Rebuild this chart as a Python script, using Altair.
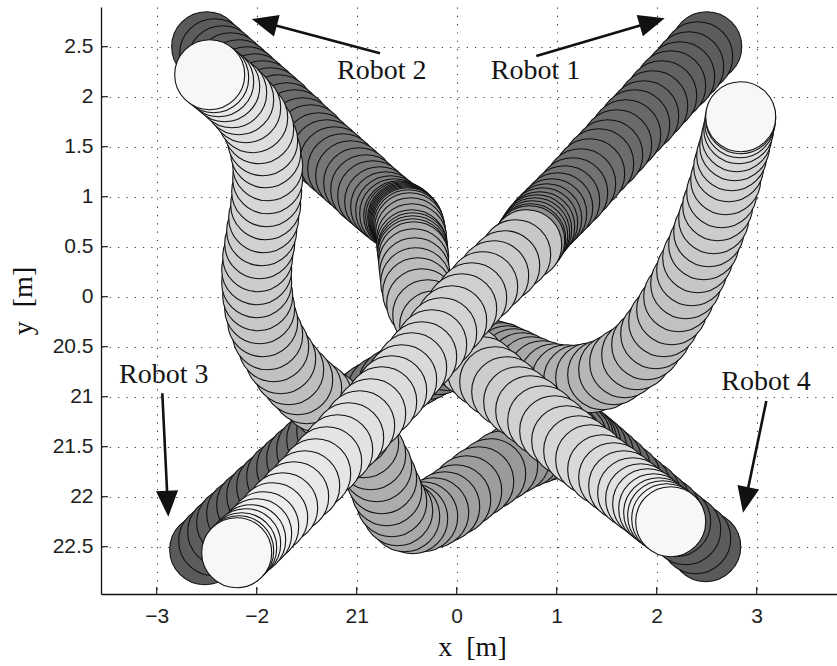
import math
import altair as alt
import pandas as pd

# ---- frame (metres) ---------------------------------------------------------
X_MIN, X_MAX = -3.557, 3.803
Y_MIN, Y_MAX = -2.973, 2.897
PLOT_W, PLOT_H = 736, 587
PX_PER_M = PLOT_W / (X_MAX - X_MIN)
ROBOT_RADIUS = 0.4          # footprint radius of every robot [m]
T_LAST = 99                 # last simulation step

x_ticks = [-3, -2, -1, 0, 1, 2, 3]
x_tick_labels = ["\u22123", "\u22122", "21", "0", "1", "2", "3"]
y_ticks = [-2.5, -2, -1.5, -1, -0.5, 0, 0.5, 1, 1.5, 2, 2.5]
y_tick_labels = ["22.5", "22", "21.5", "21", "20.5", "0", "0.5", "1", "1.5", "2", "2.5"]

# ---- robot footprints: simulation step and position -------------------------
robot1_t = [0, 1, 2, 3, 4, 5, 6, 7, 8, 9, 10, 11, 12, 13, 14, 15, 16, 17, 18, 19, 20,
            22, 24, 26, 28, 31, 34,
            68, 69, 70, 71, 72, 73, 74, 75, 76, 77, 78, 79, 80, 81, 82, 83, 84, 85, 86,
            87, 88, 89, 90, 91, 92, 93, 94, 95, 96, 97, 98, 99]
robot1_x = [2.50, 2.41, 2.32, 2.23, 2.14, 2.05, 1.96, 1.87, 1.78, 1.69, 1.60, 1.51, 1.42,
            1.33, 1.24, 1.16, 1.08, 1.01, 0.95, 0.90, 0.86,
            0.83, 0.80, 0.78, 0.76, 0.74, 0.73,
            0.70, 0.59, 0.48, 0.37, 0.26, 0.15, 0.05, -0.05, -0.15, -0.25, -0.35, -0.45,
            -0.55, -0.65, -0.75, -0.86, -0.97, -1.08, -1.19, -1.30, -1.41, -1.52, -1.63,
            -1.74, -1.84, -1.93, -2.00, -2.06, -2.11, -2.15, -2.18, -2.20]
robot1_y = [2.50, 2.40, 2.30, 2.20, 2.11, 2.01, 1.91, 1.81, 1.72, 1.62, 1.52, 1.42, 1.33,
            1.23, 1.13, 1.04, 0.96, 0.89, 0.83, 0.78, 0.74,
            0.70, 0.67, 0.64, 0.61, 0.58, 0.56,
            0.52, 0.42, 0.31, 0.21, 0.10, -0.01, -0.12, -0.24, -0.36, -0.48, -0.60, -0.71,
            -0.83, -0.94, -1.05, -1.17, -1.29, -1.41, -1.53, -1.65, -1.77, -1.89, -2.00,
            -2.11, -2.21, -2.30, -2.37, -2.43, -2.47, -2.51, -2.54, -2.56]

robot2_t = [0, 1, 2, 3, 4, 5, 6, 7, 8, 9, 10, 11, 12, 13, 14, 15, 16, 17, 18, 19, 20, 21,
            22, 23, 24, 25, 26, 28, 30, 32, 34, 36, 38, 40, 42, 44, 46, 48, 50, 51, 52,
            53, 54, 56, 58, 60, 62, 63, 64, 65, 66, 67, 68, 69, 70, 71, 72, 73, 74, 75,
            76, 77, 78, 79, 80, 81, 82, 84, 86, 88, 90, 92, 94, 96, 99]
robot2_x = [-2.50, -2.42, -2.34, -2.26, -2.18, -2.10, -2.02, -1.94, -1.86, -1.78, -1.70,
            -1.62, -1.54, -1.46, -1.38, -1.30, -1.22, -1.14, -1.06, -0.98, -0.91, -0.84,
            -0.77, -0.71, -0.66, -0.62, -0.58, -0.56, -0.54, -0.53, -0.52, -0.51, -0.50,
            -0.49, -0.48, -0.47, -0.46, -0.45, -0.45, -0.44, -0.44, -0.44, -0.43, -0.43,
            -0.42, -0.41, -0.39, -0.35, -0.29, -0.22, -0.14, -0.06, 0.03, 0.14, 0.26,
            0.38, 0.50, 0.62, 0.74, 0.86, 0.98, 1.10, 1.22, 1.34, 1.46, 1.57, 1.67, 1.76,
            1.84, 1.91, 1.97, 2.02, 2.06, 2.10, 2.14]
robot2_y = [2.50, 2.43, 2.36, 2.29, 2.22, 2.15, 2.08, 2.01, 1.94, 1.87, 1.79, 1.72, 1.64,
            1.57, 1.49, 1.42, 1.35, 1.28, 1.21, 1.14, 1.07, 1.01, 0.95, 0.90, 0.86, 0.83,
            0.81, 0.80, 0.79, 0.78, 0.77, 0.76, 0.75, 0.74, 0.72, 0.69, 0.64, 0.58, 0.52,
            0.49, 0.46, 0.43, 0.40, 0.33, 0.24, 0.14, 0.04, -0.07, -0.18, -0.29, -0.40,
            -0.48, -0.56, -0.65, -0.75, -0.85, -0.95, -1.05, -1.14, -1.24, -1.34, -1.44,
            -1.54, -1.63, -1.73, -1.81, -1.89, -1.96, -2.02, -2.07, -2.12, -2.16, -2.19,
            -2.22, -2.25]

robot3_t = [0, 1, 2, 3, 4, 5, 6, 7, 8, 9, 10, 11, 12, 13, 14, 15, 16, 17, 18, 19, 20, 21,
            22, 23, 24, 25, 26, 28, 30, 33, 36, 39, 42, 45, 48, 50, 52, 54, 55, 56, 57,
            58, 59, 60, 61, 62, 63, 64, 65, 66, 67, 68, 69, 70, 71, 72, 73, 74, 75, 76,
            77, 79, 82, 86, 91, 99]
robot3_x = [-2.52, -2.43, -2.34, -2.25, -2.15, -2.05, -1.95, -1.85, -1.75, -1.65, -1.55,
            -1.45, -1.35, -1.25, -1.15, -1.05, -0.95, -0.85, -0.74, -0.63, -0.52, -0.41,
            -0.30, -0.19, -0.08, 0.03, 0.13, 0.22, 0.30, 0.37, 0.44, 0.51, 0.58, 0.66,
            0.75, 0.86, 0.98, 1.10, 1.22, 1.34, 1.46, 1.57, 1.68, 1.80, 1.90, 1.99, 2.07,
            2.15, 2.22, 2.29, 2.35, 2.41, 2.47, 2.52, 2.57, 2.61, 2.65, 2.69, 2.72, 2.75,
            2.78, 2.80, 2.82, 2.83, 2.84, 2.84]
robot3_y = [-2.53, -2.44, -2.35, -2.26, -2.17, -2.08, -1.99, -1.90, -1.80, -1.71, -1.62,
            -1.53, -1.43, -1.34, -1.25, -1.16, -1.08, -1.01, -0.94, -0.87, -0.80, -0.74,
            -0.68, -0.63, -0.59, -0.57, -0.56, -0.56, -0.57, -0.59, -0.61, -0.64, -0.67,
            -0.71, -0.75, -0.79, -0.82, -0.83, -0.83, -0.81, -0.78, -0.73, -0.66, -0.58,
            -0.48, -0.37, -0.25, -0.13, 0.00, 0.13, 0.26, 0.39, 0.52, 0.65, 0.78, 0.91,
            1.04, 1.17, 1.30, 1.41, 1.51, 1.60, 1.68, 1.74, 1.78, 1.80]

robot4_t = [0, 1, 2, 3, 4, 5, 6, 7, 8, 9, 10, 11, 12, 13, 14, 16, 18, 20, 23, 26, 29, 32,
            34, 36, 38, 39, 40, 41, 42, 43, 44, 45, 46, 47, 48, 49, 50, 51, 52, 53, 54,
            55, 56, 57, 58, 59, 60, 61, 62, 63, 64, 65, 66, 67, 68, 69, 70, 71, 72, 73,
            74, 75, 76, 77, 78, 79, 80, 81, 82, 83, 84, 85, 86, 88, 90, 93, 99]
robot4_x = [2.49, 2.39, 2.29, 2.19, 2.09, 1.99, 1.89, 1.79, 1.69, 1.59, 1.50, 1.42, 1.35,
            1.29, 1.25, 1.22, 1.19, 1.15, 1.10, 1.04, 0.97, 0.89, 0.80, 0.70, 0.58, 0.46,
            0.34, 0.22, 0.10, -0.01, -0.12, -0.23, -0.34, -0.44, -0.52, -0.59, -0.65,
            -0.70, -0.75, -0.80, -0.86, -0.93, -1.01, -1.10, -1.20, -1.30, -1.40, -1.50,
            -1.59, -1.68, -1.76, -1.83, -1.89, -1.94, -1.97, -1.99, -2.00, -2.00, -1.99,
            -1.97, -1.95, -1.93, -1.91, -1.90, -1.89, -1.89, -1.91, -1.94, -1.98, -2.04,
            -2.11, -2.18, -2.25, -2.32, -2.38, -2.43, -2.47]
robot4_y = [-2.50, -2.42, -2.33, -2.25, -2.16, -2.08, -1.99, -1.91, -1.82, -1.73, -1.65,
            -1.58, -1.52, -1.47, -1.44, -1.42, -1.41, -1.41, -1.42, -1.44, -1.46, -1.49,
            -1.52, -1.56, -1.62, -1.69, -1.77, -1.85, -1.94, -2.03, -2.10, -2.16, -2.20,
            -2.22, -2.20, -2.14, -2.05, -1.94, -1.82, -1.70, -1.58, -1.46, -1.35, -1.25,
            -1.16, -1.08, -1.00, -0.92, -0.83, -0.73, -0.62, -0.50, -0.38, -0.25, -0.12,
            0.01, 0.14, 0.27, 0.40, 0.53, 0.66, 0.79, 0.92, 1.05, 1.18, 1.31, 1.44, 1.56,
            1.68, 1.79, 1.89, 1.97, 2.04, 2.10, 2.15, 2.19, 2.22]

# ---- annotations -------------------------------------------------------------
label_text = ["Robot 1", "Robot 2", "Robot 3", "Robot 4"]
label_x = [0.34, -1.197, -3.377, 2.646]
label_y = [2.177, 2.177, -0.86, -0.933]
arrow_tail_x = [0.796, -0.767, -2.944, 3.096]
arrow_tail_y = [2.407, 2.434, -0.966, -1.043]
arrow_tip_x = [2.08, -2.05, -2.884, 2.863]
arrow_tip_y = [2.784, 2.777, -2.20, -2.16]
HEAD_LEN = 0.26             # arrow head length [m]

# ---- tables -------------------------------------------------------------------
frames = []
for rid, (ts, xs_, ys_) in enumerate(
        [(robot1_t, robot1_x, robot1_y), (robot2_t, robot2_x, robot2_y),
         (robot3_t, robot3_x, robot3_y), (robot4_t, robot4_x, robot4_y)], start=1):
    frames.append(pd.DataFrame({"robot": rid, "t": ts, "x": xs_, "y": ys_}))
foot = pd.concat(frames, ignore_index=True)
# later steps are drawn on top of earlier ones
foot = foot.sort_values(["t", "robot"], kind="mergesort").reset_index(drop=True)
foot["seq"] = range(len(foot))

shafts, heads = [], []
for tx, ty, px, py in zip(arrow_tail_x, arrow_tail_y, arrow_tip_x, arrow_tip_y):
    dx, dy = px - tx, py - ty
    n = math.hypot(dx, dy)
    ux, uy = dx / n, dy / n
    shafts.append({"x": tx, "y": ty, "x1": px - ux * HEAD_LEN * 0.85, "y1": py - uy * HEAD_LEN * 0.85})
    heads.append({"x": px - ux * HEAD_LEN / 2, "y": py - uy * HEAD_LEN / 2,
                  "angle": math.degrees(math.atan2(ux, uy)) % 360})
shaft_df = pd.DataFrame(shafts)
head_df = pd.DataFrame(heads)
label_df = pd.DataFrame({"x": label_x, "y": label_y, "text": label_text})
xtick_df = pd.DataFrame({"x": x_ticks, "y": Y_MIN, "y1": Y_MIN + 0.07})
ytick_df = pd.DataFrame({"y": y_ticks, "x": X_MIN, "x1": X_MIN + 0.07})


def label_expr(values, labels):
    expr = "''"
    for v, lab in zip(reversed(values), reversed(labels)):
        expr = f"datum.value == {v} ? '{lab}' : ({expr})"
    return expr


xs = alt.Scale(domain=[X_MIN, X_MAX], nice=False, zero=False)
ys = alt.Scale(domain=[Y_MIN, Y_MAX], nice=False, zero=False)

common_axis = dict(
    grid=True, gridColor="#3a3a3a", gridDash=[1.2, 7.1], gridWidth=1.1,
    ticks=False, tickSize=0, domainColor="#111111", domainWidth=1.3,
    labelFont="Liberation Sans", labelFontSize=21, labelColor="#1e1e1e",
    labelFlush=False, labelOverlap=False,
    titleFont="Liberation Serif", titleFontSize=28, titleFontWeight="normal",
    titleColor="#111111", titleBaseline="alphabetic", titleAlign="center",
)
x_axis = alt.Axis(values=x_ticks, labelExpr=label_expr(x_ticks, x_tick_labels),
                  labelPadding=11, title="x\u00a0\u00a0[m]", titleX=371, titleY=61,
                  **common_axis)
y_axis = alt.Axis(values=y_ticks, labelExpr=label_expr(y_ticks, y_tick_labels),
                  labelPadding=8, title="y\u00a0\u00a0[m]", titleAngle=270,
                  titleX=-70, titleY=293.5, **common_axis)

# every layer shares the same scales and axis definitions
X = lambda f: alt.X(f"{f}:Q", scale=xs, axis=x_axis)
Y = lambda f: alt.Y(f"{f}:Q", scale=ys, axis=y_axis)

r_px = ROBOT_RADIUS * PX_PER_M - 0.5
circles = alt.Chart(foot).mark_circle(
    size=math.pi * r_px ** 2, stroke="#111111", strokeWidth=1.1, opacity=1
).encode(
    x=X("x"), y=Y("y"),
    fill=alt.Fill("t:Q", scale=alt.Scale(domain=[0, T_LAST], range=["#5a5a5a", "#f7f7f7"],
                                         interpolate="rgb"), legend=None),
    order=alt.Order("seq:Q"),
)

xticks = alt.Chart(xtick_df).mark_rule(color="#111111", strokeWidth=1.1).encode(
    x=X("x"), y=Y("y"), y2="y1:Q")
yticks = alt.Chart(ytick_df).mark_rule(color="#111111", strokeWidth=1.1).encode(
    y=Y("y"), x=X("x"), x2="x1:Q")

shaft_layer = alt.Chart(shaft_df).mark_rule(color="#111111", strokeWidth=2.6).encode(
    x=X("x"), y=Y("y"), x2="x1:Q", y2="y1:Q")
head_side = HEAD_LEN * PX_PER_M
head_layer = alt.Chart(head_df).mark_point(
    shape="M0,-1L0.85,1L-0.85,1Z", size=head_side ** 2, filled=True,
    fill="#111111", opacity=1
).encode(x=X("x"), y=Y("y"), angle=alt.Angle("angle:Q", scale=None))
labels = alt.Chart(label_df).mark_text(
    align="left", baseline="alphabetic", font="Liberation Serif", fontSize=28,
    color="#151515"
).encode(x=X("x"), y=Y("y"), text="text:N")

chart = alt.layer(circles, xticks, yticks, shaft_layer, head_layer, labels).properties(
    width=PLOT_W, height=PLOT_H,
    autosize=alt.AutoSizeParams(type="none"),
    padding={"left": 101, "top": 7, "right": 0, "bottom": 72},
).configure_view(stroke=None)

chart.save("out.html", embed_options={"renderer": "svg", "actions": False})
